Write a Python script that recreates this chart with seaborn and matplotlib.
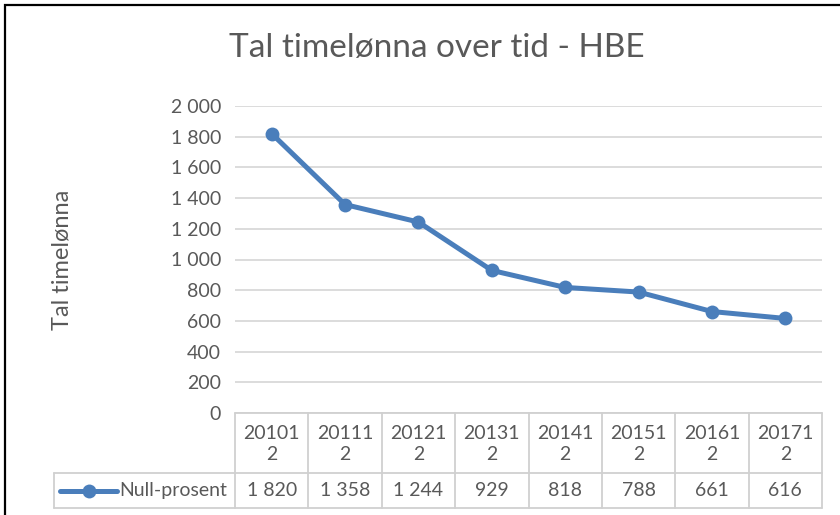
import matplotlib
matplotlib.use("Agg")
import matplotlib.pyplot as plt
import seaborn as sns
import pandas as pd
from matplotlib.lines import Line2D
from matplotlib.patches import Rectangle

# data
periods = ["201012", "201112", "201212", "201312", "201412", "201512", "201612", "201712"]
null_prosent = [1820, 1358, 1244, 929, 818, 788, 661, 616]
series_name = "Null-prosent"
y_ticks = [0, 200, 400, 600, 800, 1000, 1200, 1400, 1600, 1800, 2000]

sns.set_theme(style="white")
plt.rcParams["font.family"] = ["Lato", "Open Sans", "DejaVu Sans"]

BLUE = "#4A7EBB"
TXT = "#595959"
GRID = "#D9D9D9"

W, H = 840, 515
fig = plt.figure(figsize=(W / 100, H / 100), dpi=100)

# plot area in pixels: x 235..822, y 106..413
L, R, T, B = 235, 822, 106, 413
ax = fig.add_axes([L / W, 1 - B / H, (R - L) / W, (B - T) / H])

df = pd.DataFrame({"idx": range(len(periods)), "val": null_prosent})
sns.lineplot(data=df, x="idx", y="val", ax=ax, color=BLUE, linewidth=3.6,
             marker="o", markersize=10, markeredgewidth=0, clip_on=False, zorder=3)

ax.set_xlim(-0.5, len(periods) - 0.5)
ax.set_ylim(0, 2000)
ax.set_yticks(y_ticks)
ax.set_yticklabels([f"{v:,}".replace(",", " ") for v in y_ticks], fontsize=14, color=TXT)
ax.tick_params(axis="y", length=0, pad=10)
ax.set_xticks([])
ax.set_xlabel("")
ax.set_ylabel("")
for s in ax.spines.values():
    s.set_visible(False)
ax.grid(axis="y", color=GRID, linewidth=1.3)
ax.set_axisbelow(True)

# helpers: pixel -> figure fraction
fx = lambda px: px / W
fy = lambda py: 1 - py / H

fig.text(fx(437), fy(48), "Tal timelønna over tid - HBE", ha="center", va="center",
         fontsize=24, color=TXT)
fig.text(fx(62), fy(260), "Tal timelønna", rotation=90, ha="center", va="center",
         fontsize=17, color=TXT)

# data table under the axis
cell_w = (R - L) / len(periods)
row1, row2, row3 = 413, 473, 508
tcol = "#D0D0D0"

def hline(x0, x1, y):
    fig.add_artist(Line2D([fx(x0), fx(x1)], [fy(y), fy(y)], color=tcol, lw=1.3))

def vline(x, y0, y1):
    fig.add_artist(Line2D([fx(x), fx(x)], [fy(y0), fy(y1)], color=tcol, lw=1.3))

hline(L, R, row1)
hline(54, R, row2)
hline(54, R, row3)
vline(54, row2, row3)
for k in range(len(periods) + 1):
    vline(L + k * cell_w, row1, row3)

for i, (p, v) in enumerate(zip(periods, null_prosent)):
    cx = L + (i + 0.5) * cell_w
    fig.text(fx(cx), fy((row1 + row2) / 2 + 1), f"{p[:5]}\n{p[5:]}", ha="center", va="center",
             fontsize=14, color=TXT, linespacing=1.3)
    fig.text(fx(cx), fy((row2 + row3) / 2), f"{v:,}".replace(",", " "), ha="center", va="center",
             fontsize=14, color=TXT)

# legend key in the table
ly = fy((row2 + row3) / 2)
fig.add_artist(Line2D([fx(60), fx(117)], [ly, ly], color=BLUE, lw=3.6))
fig.add_artist(Line2D([fx(89)], [ly], color=BLUE, marker="o", markersize=10, markeredgewidth=0))
fig.text(fx(119), ly, series_name, ha="left", va="center", fontsize=14, color=TXT)

# outer chart frame (cropped on right and bottom)
fig.add_artist(Rectangle((fx(5), fy(H + 20)), fx(W + 20), fy(5) - fy(H + 20),
                         fill=False, edgecolor="black", lw=1.6, transform=fig.transFigure))

fig.savefig("out.png", dpi=100)
